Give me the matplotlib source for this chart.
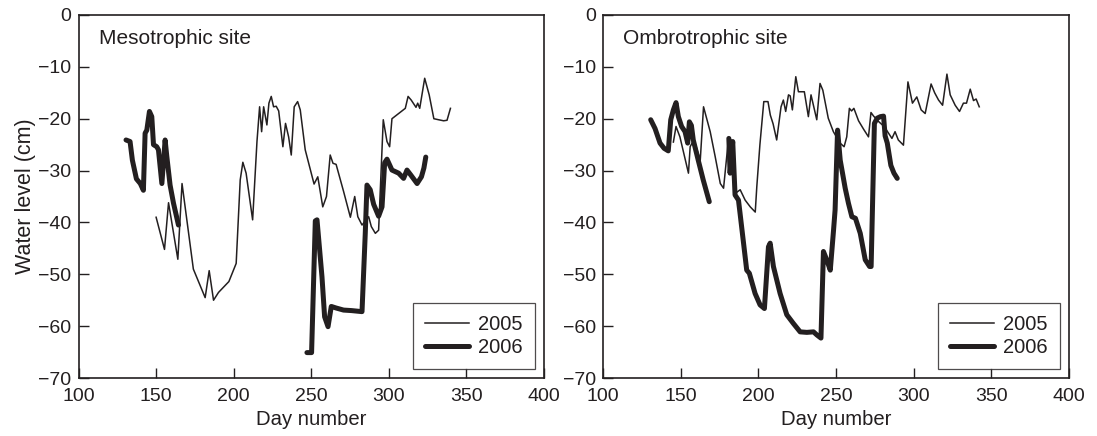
import numpy as np
import matplotlib
matplotlib.use('Agg')
import matplotlib.pyplot as plt

plt.rcParams['font.family'] = ['Liberation Sans', 'DejaVu Sans']
ink = '#231f20'

# mesotrophic site, 2005
meso05_day = [150, 155.4, 158, 164, 166.7, 174, 181.6, 184.2, 187, 190.2, 196.9, 201.6, 204.2,
              205.9, 208, 212.2, 215, 216.7, 218, 219.3, 221.4, 222.7, 224.2, 225.7, 227.4, 229,
              231.7, 233.4, 235.4, 237.1, 239, 241.2, 242.9, 246.1, 251.8, 254.2, 257.4, 259.8,
              262.2, 264, 266, 270.8, 275.2, 278, 280, 282.7, 287, 288.7, 291.3, 293.4, 296.4,
              298.8, 300.5, 302, 310.6, 312.4, 314.4, 317.5, 318.6, 319.9, 323.1, 326, 329,
              332.1, 335.3, 337.5, 339.7]
meso05_lvl = [-39, -45.2, -36.2, -47.1, -32.5, -49, -54.5, -49.3, -55, -53.5, -51.4, -47.9, -31.8,
              -28.4, -30.5, -39.5, -24.4, -17.7, -22.5, -17.7, -21.2, -17, -15.7, -17.7, -17.6, -18.5,
              -25.4, -20.9, -23.5, -27, -17.7, -16.7, -18.3, -26, -32.6, -31.2, -37, -35,
              -27, -28.6, -28.8, -34, -39, -35, -38.9, -40.5, -38.9, -40.8, -42.1, -41.5, -20.2,
              -24.4, -25.4, -20, -18, -15.7, -16.4, -17.8, -17, -18, -12.2, -15.4, -20,
              -20.2, -20.4, -20.3, -18]

# mesotrophic site, 2006 (gap in the record)
meso06_day = [130.6, 133.2, 134.7, 137.3, 139.8, 141.8, 142.9, 144, 145.7, 147.2, 148.3, 150.4,
              151.5, 153.7, 155.8, 156.9, 159, 161.2, 164.4, 200,
              247.2, 250.2, 252.6, 253.7, 256.9, 258.6, 260.8, 262.9, 266, 270.8, 276, 282.7,
              284.8, 285.9, 288, 290.2, 293.4, 295.6, 297.3, 298.8, 302, 306.3, 309.5, 311.7,
              314, 318.2, 321, 322.6, 323.8]
meso06_lvl = [-24.1, -24.4, -28, -31.6, -32.5, -33.8, -22.8, -22.2, -18.6, -19.6, -25, -25.4,
              -26, -32.5, -24.1, -27.3, -32.8, -36.3, -40.5, np.nan,
              -65.1, -65.1, -39.7, -39.5, -50.5, -58.2, -60.1, -56.2, -56.5, -56.9, -57, -57.2,
              -42.1, -32.8, -33.7, -36.5, -38.8, -37, -28.5, -27.8, -29.9, -30.5, -31.5, -29.9,
              -30.8, -32.5, -31.2, -29.5, -27.4]

# ombrotrophic site, 2005
ombro05_day = [145.3, 147, 149.5, 155, 156.1, 158.5, 162.6, 164.7, 169, 172.2, 175.5, 177.6, 180.8,
               182.5, 185.1, 188.3, 191.5, 194.8, 198, 199, 201, 203.5, 206.2, 207.7, 209.5, 211.8,
               214.6, 216.1, 217.6, 219.4, 220.5, 221.9, 224.1, 225.8, 228, 229.6, 232.2, 233.9,
               237.6, 239.7, 241.5, 245, 248.3, 252.6, 255.2, 256.9, 258.6, 260, 261.5, 264.5,
               267.7, 270.9, 272.5, 274.2, 277.6, 281, 286, 288, 290.1, 293.4, 296.3, 299.2,
               302, 304.8, 307.4, 311.2, 313.5, 316, 318.6, 321.4, 323.5, 326.7, 329.5, 332,
               334, 336.4, 338.5, 340.2, 342.2]
ombro05_lvl = [-24.5, -21.5, -23.5, -30.5, -25.4, -24, -28, -17.7, -22.5, -27.3, -32.5, -33.4, -23.8,
               -29, -34.4, -33.7, -35.7, -37, -38, -33.1, -25, -16.7, -16.7, -19.3, -21, -24.1,
               -17.7, -16.4, -18.6, -15.4, -15.6, -18.3, -11.9, -14.8, -14.8, -14.8, -19.6, -15.4,
               -20.2, -13.2, -14.5, -19.9, -22.5, -24.7, -25.4, -23.5, -18, -18.5, -18, -20.4,
               -22, -23.5, -18.8, -19.5, -20.6, -21.5, -23.8, -22.5, -24.1, -25.1, -12.9, -17,
               -15.8, -18.3, -19, -13.3, -15, -16.4, -17.4, -11.4, -15.4, -17.4, -18.6, -17,
               -17, -14.3, -16.5, -16.2, -17.7]

# ombrotrophic site, 2006 (gap in the record)
ombro06_day = [130.7, 133.5, 136.7, 139.3, 142, 143.6, 145.3, 147, 148.5, 150.6, 152.8, 154.5,
               155.6, 156.9, 158.1, 161.3, 164.5, 168.4, 175,
               181, 181.8, 183.5, 185, 187.2, 188.2, 192.5, 194.2, 197.9, 201.1, 203.9, 206.5,
               207.6, 209.7, 214, 218.3, 222.6, 226.9, 231.2, 235.5, 237.7, 240.3, 241.9, 244,
               246.3, 248.4, 249.4, 251, 252.7, 255.9, 258, 260.2, 262.5, 265.6, 268.8, 271.6,
               272.6, 274.7, 276.5, 278.6, 280.6, 281.6, 283, 285.3, 287.3, 289.4]
ombro06_lvl = [-20.2, -21.9, -24.7, -25.7, -26.2, -20.2, -18.3, -16.9, -19.6, -21.5, -22.5, -24.7,
               -20.6, -21.3, -24.1, -28, -31.8, -36, np.nan,
               -23.8, -30.5, -24.4, -34.7, -35.7, -38.2, -49.2, -49.8, -53.7, -55.9, -56.6, -44.7,
               -44, -48.5, -53.7, -57.8, -59.5, -61.1, -61.2, -61.1, -61.7, -62.3, -45.6, -47.2,
               -49.2, -41.5, -37.6, -22.2, -28, -33.4, -36.3, -38.9, -39.2, -42.1, -47.2, -48.5,
               -48.5, -20.9, -19.9, -19.6, -19.5, -23.3, -24.7, -29, -30.5, -31.5]

titles = ['Mesotrophic site', 'Ombrotrophic site']
years = ['2005', '2006']

fig = plt.figure(figsize=(10.97, 4.36), dpi=100)
ax1 = fig.add_axes([0.0716, 0.133, 0.4243, 0.8326])
ax2 = fig.add_axes([0.5497, 0.133, 0.4248, 0.8326])

panels = [(ax1, meso05_day, meso05_lvl, meso06_day, meso06_lvl),
          (ax2, ombro05_day, ombro05_lvl, ombro06_day, ombro06_lvl)]

for i, (ax, d5, l5, d6, l6) in enumerate(panels):
    ax.plot(d5, l5, color=ink, lw=1.1, solid_joinstyle='round', label=years[0])
    ax.plot(d6, l6, color=ink, lw=3.6, solid_joinstyle='round', solid_capstyle='round',
            label=years[1])
    ax.set_xlim(100, 400)
    ax.set_ylim(-70, 0)
    ax.set_xticks(range(100, 401, 50))
    ax.set_yticks(range(-70, 1, 10))
    ax.set_yticklabels(['\u221270', '\u221260', '\u221250', '\u221240', '\u221230',
                        '\u221220', '\u221210', '0'])
    ax.tick_params(direction='in', length=7, width=1, colors=ink, labelsize=14, pad=5)
    ax.tick_params(axis='x', pad=7)
    for s in ax.spines.values():
        s.set_color(ink)
        s.set_linewidth(1.2)
    ax.set_xlabel('Day number', fontsize=14.6, color=ink, labelpad=4)
    ax.text(0.043, 0.935, titles[i], transform=ax.transAxes, fontsize=15,
            color=ink, va='center', ha='left')
    leg = ax.legend(loc='lower right', fontsize=14.5, frameon=True, fancybox=False,
                    edgecolor=ink, handlelength=2.2, borderaxespad=0.45,
                    handletextpad=0.45, labelspacing=0.2, borderpad=0.6)
    leg.get_frame().set_linewidth(0.9)
    for t in leg.get_texts():
        t.set_color(ink)

ax1.set_ylabel('Water level (cm)', fontsize=15.5, color=ink, labelpad=2)

fig.savefig('out.png', dpi=100)
